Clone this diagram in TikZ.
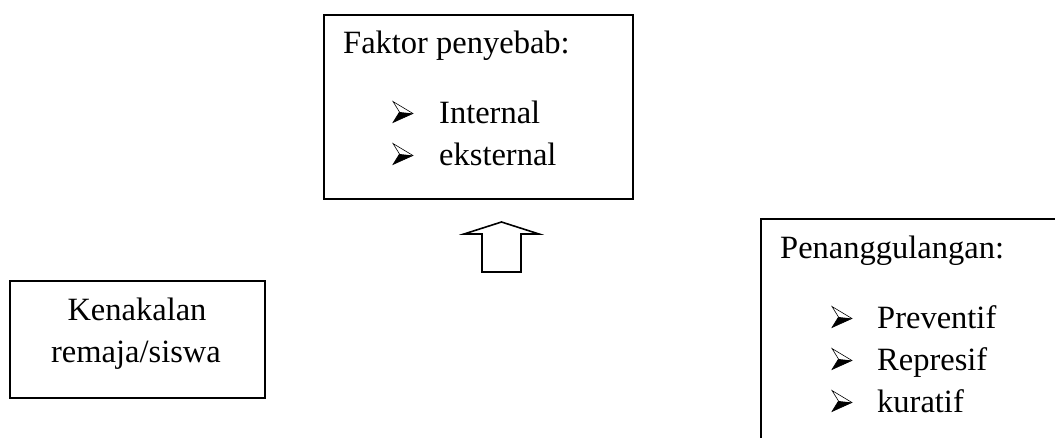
\documentclass[tikz,border=0pt]{standalone}
\usepackage{fontspec}
\setmainfont{Liberation Serif}
\begin{document}
\begin{tikzpicture}[x=1pt,y=-1pt,
  box/.style={draw=black,line width=1.6pt,anchor=north west,inner sep=0pt},
  txt/.style={anchor=base west,inner sep=0pt,font=\fontsize{32.5}{40}\selectfont},
  ctxt/.style={anchor=base,inner sep=0pt,font=\fontsize{32.5}{40}\selectfont},
  bul/.pic={
    \fill[black] (6.5,0) -- (20,1.5) -- (0,10.5) -- cycle;
    \draw[black,line width=0.6pt,line join=miter] (0,-10.5) -- (20,1.5) -- (0,10.5) -- (6.5,0) -- cycle;
  }]
\useasboundingbox (0,0) rectangle (1055,437);
% boxes
\node[box,minimum width=309pt,minimum height=184pt] (faktor) at (323,14) {};
\node[box,minimum width=255pt,minimum height=117pt] (kenakalan) at (9,280) {};
\node[box,minimum width=340pt,minimum height=260pt] (penang) at (760,218) {};
% texts in faktor box
\node[txt] (t1) at (343,53) {Faktor penyebab:};
\node[txt] (t2) at (439,123) {Internal};
\node[txt] (t3) at (439,165) {eksternal};
\pic at (393,112) {bul};
\pic at (393,154) {bul};
% kenakalan
\node[ctxt] (k1) at (137,320) {Kenakalan};
\node[ctxt] (k2) at (136,362) {remaja/siswa};
% penanggulangan
\node[txt] (p0) at (780,258) {Penanggulangan:};
\node[txt] (p1) at (877,328) {Preventif};
\node[txt] (p2) at (877,370) {Represif};
\node[txt] (p3) at (877,412) {kuratif};
\pic at (832,317) {bul};
\pic at (832,359) {bul};
\pic at (832,401) {bul};
% block arrow
\draw[line width=1.6pt,line join=miter] (501.5,222) -- (539,234) -- (521,234) -- (521,272) -- (482,272) -- (482,234) -- (464,234) -- cycle;
\end{tikzpicture}
\end{document}
